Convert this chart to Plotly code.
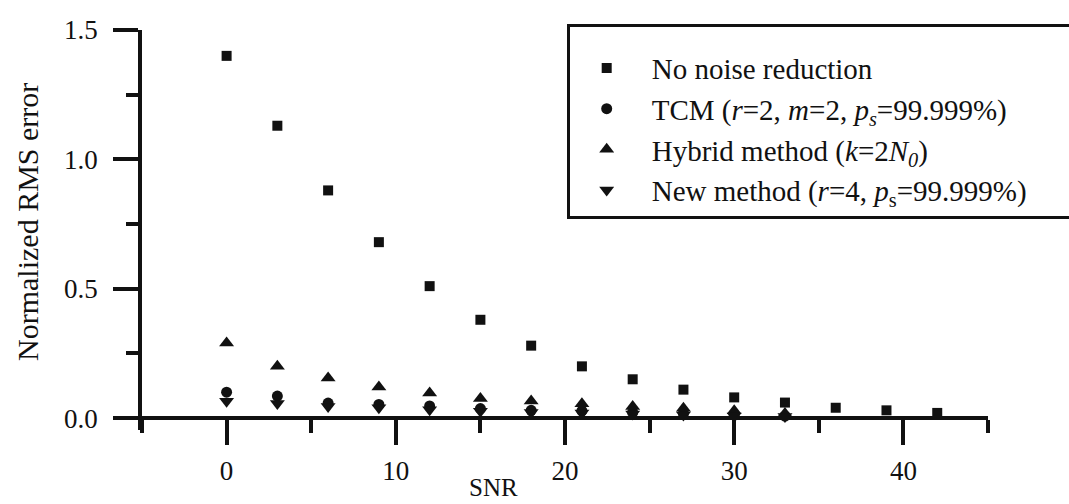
import plotly.graph_objects as go

snr_sq = [0, 3, 6, 9, 12, 15, 18, 21, 24, 27, 30, 33, 36, 39, 42]
no_noise = [1.40, 1.13, 0.88, 0.68, 0.51, 0.38, 0.28, 0.20, 0.15, 0.11, 0.08, 0.06, 0.04, 0.03, 0.02]

snr_m = [0, 3, 6, 9, 12, 15, 18, 21, 24, 27, 30, 33]
tcm = [0.10, 0.085, 0.058, 0.053, 0.047, 0.037, 0.03, 0.028, 0.022, 0.018, 0.012, 0.008]
hybrid = [0.29, 0.20, 0.155, 0.12, 0.097, 0.076, 0.066, 0.055, 0.045, 0.038, 0.028, 0.018]
new_m = [0.065, 0.056, 0.045, 0.04, 0.032, 0.026, 0.022, 0.02, 0.016, 0.012, 0.008, 0.006]

names = [
    "No noise reduction",
    "TCM (<i>r</i>=2, <i>m</i>=2, <i>p</i><sub><i>s</i></sub>=99.999%)",
    "Hybrid method (<i>k</i>=2<i>N</i><sub><i>0</i></sub>)",
    "New method (<i>r</i>=4, <i>p</i><sub>s</sub>=99.999%)" + "\u00a0" * 5,
]
x_title = "SNR"
y_title = "Normalized RMS error"

FONT = "Times New Roman, Liberation Serif, serif"
INK = "#111111"

fig = go.Figure()
series = [
    (snr_sq, no_noise, "square", 10),
    (snr_m, tcm, "circle", 11),
    (snr_m, hybrid, "triangle-up", 13),
    (snr_m, new_m, "triangle-down", 13),
]
for i, (xs, ys, sym, sz) in enumerate(series):
    fig.add_trace(go.Scatter(
        x=xs, y=ys, mode="markers", name=names[i], legendgroup=f"g{i}",
        marker=dict(symbol=sym, size=sz, color=INK, line=dict(width=0)),
    ))

ymin = -0.046
fig.update_layout(
    width=1069, height=504,
    margin=dict(l=142, r=81, t=30, b=74, autoexpand=False),
    paper_bgcolor="white", plot_bgcolor="white",
    font=dict(family=FONT, size=27, color=INK),
    showlegend=True,
    legend=dict(
        x=0.502, y=1.015, xanchor="left", yanchor="top",
        bordercolor=INK, borderwidth=3, bgcolor="white",
        font=dict(family=FONT, size=29, color=INK),
        tracegroupgap=0, itemsizing="trace",
        itemwidth=80, indentation=-8,
        title=dict(text=" ", side="top", font=dict(size=12)),
    ),
    xaxis=dict(
        range=[-5, 45], tick0=0, dtick=10,
        showgrid=False, zeroline=False,
        showline=True, linecolor=INK, linewidth=3.5,
        ticks="outside", ticklen=25, tickwidth=3.5, tickcolor=INK,
        minor=dict(tick0=5, dtick=5, ticks="outside", ticklen=13, tickwidth=3.5, tickcolor=INK),
        anchor="free", position=(-ymin) / (1.5 - ymin),
        tickfont=dict(size=27),
        ticklabelstandoff=3,
    ),
    yaxis=dict(
        range=[ymin, 1.5], tick0=0, dtick=0.5, tickformat=".1f",
        showgrid=False, zeroline=False,
        showline=True, linecolor=INK, linewidth=3.5,
        ticks="outside", ticklen=25, tickwidth=3.5, tickcolor=INK,
        minor=dict(tick0=0, dtick=0.25, ticks="outside", ticklen=12, tickwidth=3.5, tickcolor=INK),
        tickfont=dict(size=27),
        ticklabelstandoff=10,
    ),
    annotations=[
        dict(text=x_title, xref="x", yref="paper", x=15.8, y=-0.1425,
             xanchor="center", yanchor="middle", showarrow=False,
             font=dict(family=FONT, size=25, color=INK)),
        dict(text=y_title, xref="paper", yref="paper", x=-0.136, y=0.52,
             xanchor="center", yanchor="middle", textangle=-90, showarrow=False,
             font=dict(family=FONT, size=30, color=INK)),
    ],
)

fig.write_html("out.html")
